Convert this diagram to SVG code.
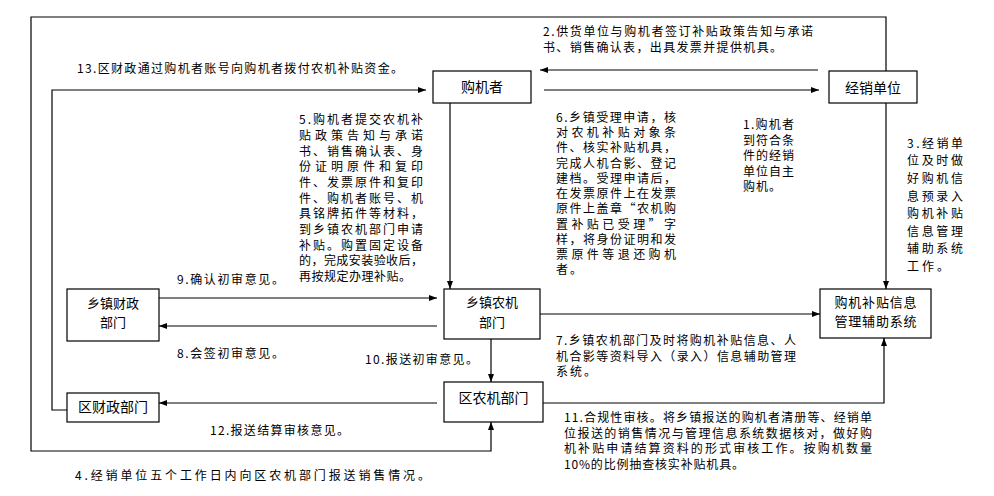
<svg xmlns="http://www.w3.org/2000/svg" width="994" height="496" viewBox="0 0 994 496">
<style>
.box{fill:#fff;stroke:#000;stroke-width:1.2}
.lbl{font-family:"Noto Sans CJK SC","Noto Sans",sans-serif;font-size:14px;fill:#000;text-anchor:middle}
.lbl2{font-family:"Noto Sans CJK SC","Noto Sans",sans-serif;font-size:13px;fill:#000;text-anchor:middle}
.ann{font-family:"Noto Sans CJK SC","Noto Sans",sans-serif;font-size:12px;fill:#000}
.ln{fill:none;stroke:#000;stroke-width:1.2}
.arr{marker-end:url(#ah)}
</style>
<defs>
<marker id="ah" markerWidth="8" markerHeight="6" refX="8" refY="3" orient="auto" markerUnits="userSpaceOnUse">
<path d="M0,0 L8,3 L0,6 z" fill="#000"/>
</marker>
</defs>
<rect width="994" height="496" fill="#fff"/>
<g id="connectors">
<path class="ln arr" d="M886,71 V17 H31 V451 H491 V422"/>
<path class="ln arr" d="M67,410 H52 V90 H426"/>
<path class="ln arr" d="M818,70 H540"/>
<path class="ln arr" d="M544,90 H819"/>
<path class="ln arr" d="M886,103 V289"/>
<path class="ln arr" d="M450,103 V289"/>
<path class="ln arr" d="M159,298 H437"/>
<path class="ln arr" d="M437,326 H159"/>
<path class="ln arr" d="M540,314 H820"/>
<path class="ln arr" d="M491,338 V382"/>
<path class="ln arr" d="M543,403 H884 V338"/>
<path class="ln arr" d="M437,403 H159"/>
</g>
<g id="n-buyer"><rect class="box" x="433" y="71" width="98" height="32"/><text class="lbl" x="482" y="92">购机者</text></g>
<g id="n-dealer"><rect class="box" x="829" y="71" width="88" height="32"/><text class="lbl" x="873" y="93">经销单位</text></g>
<g id="n-town-fin"><rect class="box" x="67" y="289" width="92" height="52"/><text class="lbl2" x="113" y="307.5">乡镇财政</text><text class="lbl2" x="113" y="327">部门</text></g>
<g id="n-town-agri"><rect class="box" x="444" y="289" width="96" height="50"/><text class="lbl2" x="492" y="307">乡镇农机</text><text class="lbl2" x="492" y="326.5">部门</text></g>
<g id="n-system"><rect class="box" x="820" y="289" width="111" height="49"/><text class="lbl2" x="875.5" y="306.5" textLength="82">购机补贴信息</text><text class="lbl2" x="875.5" y="326" textLength="82">管理辅助系统</text></g>
<g id="n-dist-agri"><rect class="box" x="444" y="382" width="99" height="40"/><text class="lbl" x="493.5" y="403">区农机部门</text></g>
<g id="n-dist-fin"><rect class="box" x="67" y="393" width="92" height="29"/><text class="lbl" x="113" y="412">区财政部门</text></g>
<g id="labels" class="ann">
<text x="77" y="73" textLength="326">13.区财政通过购机者账号向购机者拨付农机补贴资金。</text>
<text x="543" y="36" textLength="270">2.供货单位与购机者签订补贴政策告知与承诺</text>
<text x="543" y="52" textLength="239">书、销售确认表，出具发票并提供机具。</text>
<text x="299" y="124.3" textLength="124">5.购机者提交农机补</text>
<text x="299" y="140" textLength="124">贴政策告知与承诺</text>
<text x="299" y="155.6" textLength="124">书、销售确认表、身</text>
<text x="299" y="171.3" textLength="124">份证明原件和复印</text>
<text x="299" y="187" textLength="124">件、发票原件和复印</text>
<text x="299" y="202.6" textLength="124">件、购机者账号、机</text>
<text x="299" y="218.3" textLength="124">具铭牌拓件等材料，</text>
<text x="299" y="234" textLength="124">到乡镇农机部门申请</text>
<text x="299" y="249.7" textLength="124">补贴。购置固定设备</text>
<text x="299" y="265.3" textLength="124">的，完成安装验收后，</text>
<text x="299" y="281" textLength="112">再按规定办理补贴。</text>
<text x="556" y="121.7" textLength="120">6.乡镇受理申请，核</text>
<text x="556" y="137" textLength="120">对农机补贴对象条</text>
<text x="556" y="152.2" textLength="120">件、核实补贴机具，</text>
<text x="556" y="167.5" textLength="120">完成人机合影、登记</text>
<text x="556" y="182.7" textLength="120">建档。受理申请后，</text>
<text x="556" y="198" textLength="120">在发票原件上在发票</text>
<text x="556" y="213.3" textLength="120">原件上盖章“农机购</text>
<text x="556" y="228.5" textLength="120">置补贴已受理”字</text>
<text x="556" y="243.8" textLength="120">样，将身份证明和发</text>
<text x="556" y="259" textLength="120">票原件等退还购机</text>
<text x="556" y="274.3" textLength="26">者。</text>
<text x="743" y="129" textLength="51">1.购机者</text>
<text x="743" y="144.6" textLength="51">到符合条</text>
<text x="743" y="160.2" textLength="51">件的经销</text>
<text x="743" y="175.8" textLength="51">单位自主</text>
<text x="743" y="191.4" textLength="38">购机。</text>
<text x="907" y="147.7" textLength="56">3.经销单</text>
<text x="907" y="165.3" textLength="56">位及时做</text>
<text x="907" y="182.9" textLength="56">好购机信</text>
<text x="907" y="200.5" textLength="56">息预录入</text>
<text x="907" y="218.1" textLength="56">购机补贴</text>
<text x="907" y="235.7" textLength="56">信息管理</text>
<text x="907" y="253.3" textLength="56">辅助系统</text>
<text x="907" y="270.9" textLength="42">工作。</text>
<text x="177" y="284" textLength="107">9.确认初审意见。</text>
<text x="177" y="358" textLength="107">8.会签初审意见。</text>
<text x="365" y="364" textLength="113">10.报送初审意见。</text>
<text x="556" y="345" textLength="240">7.乡镇农机部门及时将购机补贴信息、人</text>
<text x="556" y="360.5" textLength="240">机合影等资料导入（录入）信息辅助管理</text>
<text x="556" y="376" textLength="40">系统。</text>
<text x="564" y="422" textLength="308">11.合规性审核。将乡镇报送的购机者清册等、经销单</text>
<text x="564" y="437.5" textLength="308">位报送的销售情况与管理信息系统数据核对，做好购</text>
<text x="564" y="453" textLength="308">机补贴申请结算资料的形式审核工作。按购机数量</text>
<text x="564" y="468.5" textLength="180">10%的比例抽查核实补贴机具。</text>
<text x="210" y="435" textLength="139">12.报送结算审核意见。</text>
<text x="75" y="480" textLength="355">4.经销单位五个工作日内向区农机部门报送销售情况。</text>
</g>
</svg>
